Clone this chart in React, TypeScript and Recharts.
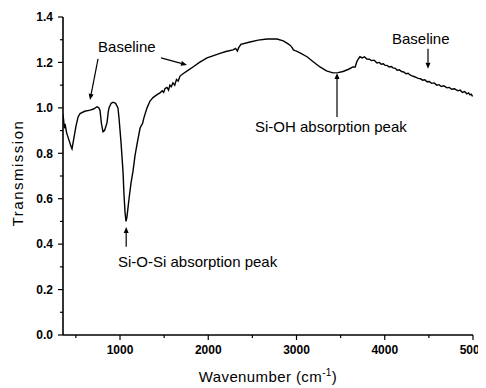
import React from "react";
import { LineChart, Line, XAxis, YAxis, ReferenceLine, ReferenceDot } from "recharts";

const wavenumbers = [
  354, 360, 370, 377, 395, 420, 445, 456, 470, 501, 525, 547, 600, 660, 700, 739, 760, 773, 790, 807,
  825, 853, 866, 875, 900, 921, 950, 977, 990, 1011, 1034, 1045, 1057, 1068, 1079, 1102, 1125, 1147,
  1170, 1193, 1227, 1245, 1255, 1270, 1306, 1340, 1374, 1420, 1453, 1480, 1495, 1510, 1533, 1550,
  1565, 1580, 1600, 1620, 1640, 1660, 1680, 1714, 1770, 1827, 1900, 1986, 2060, 2133, 2200, 2280,
  2310, 2330, 2345, 2370, 2473, 2566, 2666, 2779, 2850, 2892, 2930, 2950, 2965, 2983, 3000, 3050,
  3119, 3200, 3266, 3340, 3413, 3470, 3527, 3590, 3640, 3665, 3685, 3700, 3719, 3745, 3770, 3798,
  3825, 3850, 3880, 3912, 3940, 3960, 3985, 4000, 4030, 4050, 4075, 4093, 4120, 4140, 4165, 4190,
  4215, 4240, 4265, 4286, 4310, 4330, 4355, 4380, 4405, 4430, 4455, 4478, 4505, 4530, 4560, 4590,
  4615, 4640, 4670, 4705, 4730, 4760, 4790, 4830, 4855, 4880, 4905, 4930, 4950, 4966, 4980, 4995,
];
const transmission = [
  0.97, 0.95, 0.91, 0.93, 0.89, 0.86, 0.83, 0.82, 0.85, 0.92, 0.96, 0.975, 0.985, 0.99, 0.995, 1.005,
  1.0, 0.99, 0.93, 0.895, 0.9, 0.935, 0.98, 1.0, 1.02, 1.025, 1.02, 1.0, 0.95, 0.85, 0.72, 0.62, 0.54,
  0.5, 0.52, 0.6, 0.67, 0.72, 0.79, 0.84, 0.91, 0.925, 0.93, 0.955, 1.0, 1.03, 1.045, 1.058, 1.066,
  1.075, 1.068, 1.085, 1.09, 1.078, 1.1, 1.093, 1.11, 1.1, 1.125, 1.118, 1.14, 1.15, 1.165, 1.18, 1.2,
  1.22, 1.23, 1.24, 1.248, 1.255, 1.262, 1.25, 1.265, 1.28, 1.29, 1.298, 1.303, 1.303, 1.295, 1.285,
  1.275, 1.265, 1.255, 1.252, 1.25, 1.24, 1.225, 1.2, 1.18, 1.163, 1.154, 1.155, 1.16, 1.17, 1.18,
  1.18, 1.205, 1.215, 1.225, 1.22, 1.225, 1.215,
  1.214, 1.208, 1.21, 1.198, 1.2, 1.192, 1.194, 1.188, 1.186, 1.18, 1.182, 1.176, 1.174, 1.166, 1.168, 1.16,
  1.158, 1.15, 1.152, 1.145, 1.141, 1.138, 1.134, 1.13, 1.128, 1.122, 1.124, 1.115, 1.116, 1.108, 1.11, 1.1,
  1.102, 1.094, 1.097, 1.088, 1.09, 1.082, 1.084, 1.075, 1.078, 1.068, 1.072, 1.062, 1.066, 1.057, 1.06, 1.05,
];

const xTicks = [500, 1000, 1500, 2000, 2500, 3000, 3500, 4000, 4500, 5000];
const xMajor = [1000, 2000, 3000, 4000, 5000];
const yTicks = [0, 0.1, 0.2, 0.3, 0.4, 0.5, 0.6, 0.7, 0.8, 0.9, 1.0, 1.1, 1.2, 1.3, 1.4];

const annotations = [
  { text: "Baseline", x: 751, y: 1.247 },
  { text: "Baseline", x: 4082, y: 1.282 },
  { text: "Si-OH absorption peak", x: 2530, y: 0.894 },
  { text: "Si-O-Si absorption peak", x: 977, y: 0.3 },
];
const arrows = [
  { from: [751, 1.216], to: [660, 1.035] },
  { from: [1465, 1.22], to: [1759, 1.189] },
  { from: [4490, 1.26], to: [4490, 1.172] },
  { from: [3459, 0.96], to: [3459, 1.154] },
  { from: [1070, 0.388], to: [1070, 0.476] },
];

const data = wavenumbers.map((w, i) => ({ w, t: transmission[i] }));

const FONT = "'Liberation Sans', Arial, Helvetica, sans-serif";
const TICK_SIZE = 5;
const TICK_MARGIN = 5;

const YTick = (props: any) => {
  const { x, y, payload } = props;
  const v = payload.value;
  const major = Math.abs(v * 5 - Math.round(v * 5)) < 1e-6;
  const ax = x + TICK_SIZE + TICK_MARGIN;
  return (
    <g>
      <line x1={ax - (major ? 5 : 3)} x2={ax} y1={y} y2={y} stroke="#000" strokeWidth={1.2} />
      {major && (
        <text x={x} y={y} dy="0.355em" textAnchor="end" fontSize={12} fontWeight="bold" fontFamily={FONT} fill="#000">
          {v.toFixed(1)}
        </text>
      )}
    </g>
  );
};

const XTick = (props: any) => {
  const { x, y, payload } = props;
  const v = payload.value;
  const major = xMajor.includes(v);
  const ay = y - TICK_SIZE - TICK_MARGIN;
  return (
    <g>
      <line x1={x} x2={x} y1={ay} y2={ay + (major ? 5 : 3)} stroke="#000" strokeWidth={1.2} />
      {major && (
        <text x={x} y={y} dy="0.71em" textAnchor="middle" fontSize={12} fontWeight="bold" fontFamily={FONT} fill="#000">
          {v}
        </text>
      )}
    </g>
  );
};

const ArrowShape = (p: any) => {
  const { x1, y1, x2, y2 } = p;
  const dx = x2 - x1;
  const dy = y2 - y1;
  const len = Math.sqrt(dx * dx + dy * dy) || 1;
  const ux = dx / len;
  const uy = dy / len;
  const hl = 6;
  const hw = 2.5;
  const bx = x2 - ux * hl;
  const by = y2 - uy * hl;
  const pts = `${x2},${y2} ${bx - uy * hw},${by + ux * hw} ${bx + uy * hw},${by - ux * hw}`;
  return (
    <g>
      <line x1={x1} y1={y1} x2={bx} y2={by} stroke="#000" strokeWidth={1.2} />
      <polygon points={pts} fill="#000" />
    </g>
  );
};

export default function App() {
  return (
    <LineChart
      width={478}
      height={380}
      data={data}
      margin={{ top: 9, right: 13, bottom: 0, left: 0 }}
      style={{ background: "#fff" }}
    >
      <XAxis
        dataKey="w"
        type="number"
        domain={[354, 5000]}
        ticks={xTicks}
        allowDataOverflow
        height={53}
        tickSize={TICK_SIZE}
        tickMargin={TICK_MARGIN}
        tickLine={false}
        tick={<XTick />}
        axisLine={{ stroke: "#000", strokeWidth: 1.6 }}
        interval={0}
        label={{
          content: (p: any) => {
            const vb = p.viewBox;
            return (
              <text
                x={vb.x + vb.width / 2}
                y={vb.y + 47}
                textAnchor="middle"
                fontSize={15}
                fontFamily={FONT}
                fill="#000"
                letterSpacing={0.4}
              >
                Wavenumber (cm
                <tspan dy={-6} fontSize={10}>-1</tspan>
                <tspan dy={6}>)</tspan>
              </text>
            );
          },
        }}
      />
      <YAxis
        type="number"
        domain={[0, 1.4]}
        ticks={yTicks}
        allowDataOverflow
        width={55}
        tickSize={TICK_SIZE}
        tickMargin={TICK_MARGIN}
        tickLine={false}
        tick={<YTick />}
        axisLine={{ stroke: "#000", strokeWidth: 1.6 }}
        interval={0}
        label={{
          content: (p: any) => {
            const vb = p.viewBox;
            const cx = 15;
            const cy = vb.y + vb.height / 2 - 3;
            return (
              <text
                x={cx}
                y={cy}
                transform={`rotate(-90 ${cx} ${cy})`}
                textAnchor="middle"
                fontSize={15}
                fontFamily={FONT}
                fill="#000"
                letterSpacing={1.5}
              >
                Transmission
              </text>
            );
          },
        }}
      />
      <Line
        type="linear"
        dataKey="t"
        stroke="#000"
        strokeWidth={1.4}
        dot={false}
        isAnimationActive={false}
      />
      {arrows.map((a, i) => (
        <ReferenceLine
          key={`a${i}`}
          segment={[
            { x: a.from[0], y: a.from[1] },
            { x: a.to[0], y: a.to[1] },
          ]}
          ifOverflow="visible"
          shape={ArrowShape}
        />
      ))}
      {annotations.map((t, i) => (
        <ReferenceDot
          key={`t${i}`}
          x={t.x}
          y={t.y}
          r={0}
          ifOverflow="visible"
          shape={(p: any) => (
            <text x={p.cx} y={p.cy} fontSize={15} fontFamily={FONT} fill="#000">
              {t.text}
            </text>
          )}
        />
      ))}
    </LineChart>
  );
}
